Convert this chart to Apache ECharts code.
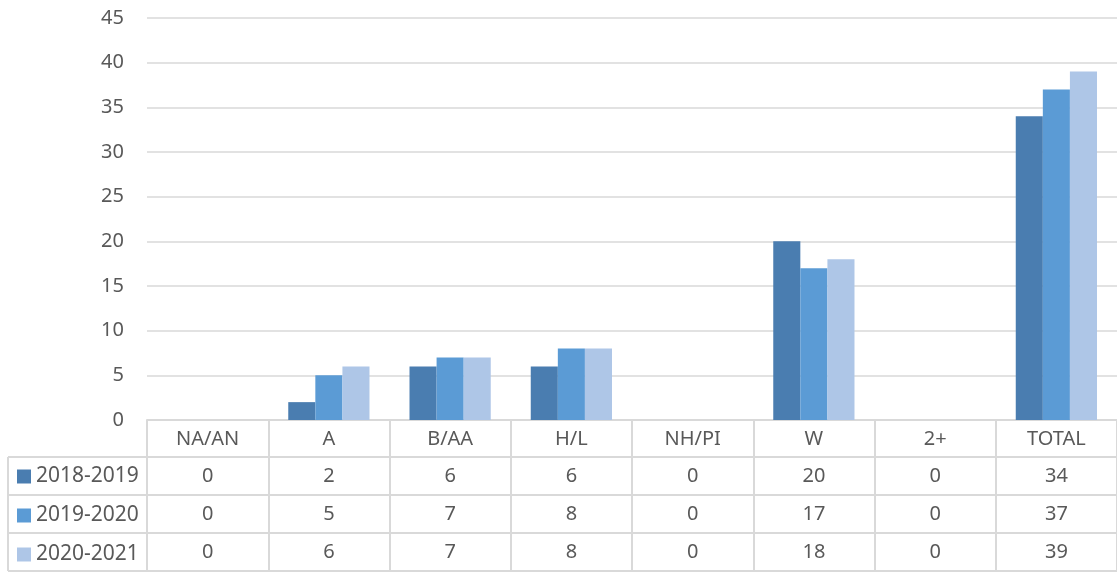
<!DOCTYPE html>
<html>
<head>
<meta charset="utf-8">
<script src="https://cdn.jsdelivr.net/npm/echarts@6/dist/echarts.min.js"></script>
<style>
  html, body { margin: 0; padding: 0; background: #fff; }
  #chart { width: 1117px; height: 572px; }
</style>
</head>
<body>
<div id="chart"></div>
<script>
// data
var categories = ['NA/AN', 'A', 'B/AA', 'H/L', 'NH/PI', 'W', '2+', 'TOTAL'];
var seriesNames = ['2018-2019', '2019-2020', '2020-2021'];
var s2018 = [0, 2, 6, 6, 0, 20, 0, 34];
var s2019 = [0, 5, 7, 8, 0, 17, 0, 37];
var s2020 = [0, 6, 7, 8, 0, 18, 0, 39];
var yTicks = [0, 5, 10, 15, 20, 25, 30, 35, 40, 45];

var colors = ['#4a7db0', '#5b9bd5', '#aec6e7'];
var rows = [s2018, s2019, s2020];
var gridLine = '#d9d9d9';
var txt = '#595959';
var font = 'Noto Sans';

// table rows: header + one row per series (offset from the x axis line)
var rowOffsets = [0, 37, 75, 113, 151];

var myChart = echarts.init(document.getElementById('chart'));

var xAxes = [];
// header row with category names
xAxes.push({
  type: 'category', data: categories, gridIndex: 0, position: 'bottom', offset: 0,
  axisLine: { show: true, lineStyle: { color: gridLine, width: 2 } },
  axisTick: { show: true, length: rowOffsets[1], interval: 0, lineStyle: { color: gridLine, width: 2 } },
  axisLabel: { interval: 0, margin: 9, color: txt, fontSize: 20, fontFamily: font }
});
// one row per series with its values
rows.forEach(function (vals, k) {
  xAxes.push({
    type: 'category', data: categories, gridIndex: 0, position: 'bottom',
    offset: rowOffsets[k + 1],
    axisLine: { show: true, lineStyle: { color: gridLine, width: 2 } },
    axisTick: { show: true, length: rowOffsets[k + 2] - rowOffsets[k + 1], interval: 0, lineStyle: { color: gridLine, width: 2 } },
    axisLabel: {
      interval: 0, margin: 9, color: txt, fontSize: 20, fontFamily: font,
      formatter: function (v, i) { return String(vals[i]); }
    }
  });
});
// bottom border of the table
xAxes.push({
  type: 'category', data: categories, gridIndex: 0, position: 'bottom',
  offset: rowOffsets[4],
  axisLine: { show: true, lineStyle: { color: gridLine, width: 2 } },
  axisTick: { show: false }, axisLabel: { show: false }
});

// left column borders of the table
var tableLeft = 8, tableRight = 147, axisY = 420;
var graphics = [];
for (var r = 1; r < rowOffsets.length; r++) {
  graphics.push({
    type: 'line', silent: true,
    shape: { x1: tableLeft, y1: axisY + rowOffsets[r], x2: tableRight, y2: axisY + rowOffsets[r] },
    style: { stroke: gridLine, lineWidth: 2 }
  });
}
graphics.push({
  type: 'line', silent: true,
  shape: { x1: tableLeft, y1: axisY + rowOffsets[1], x2: tableLeft, y2: axisY + rowOffsets[4] },
  style: { stroke: gridLine, lineWidth: 2 }
});

myChart.setOption({
  animation: false,
  color: colors,
  textStyle: { fontFamily: font },
  grid: { left: 147, right: 0, top: 18, bottom: 152, containLabel: false },
  legend: {
    data: seriesNames,
    orient: 'vertical',
    left: 17, top: 466,
    padding: 0,
    itemWidth: 14, itemHeight: 14, itemGap: 18,
    icon: 'rect',
    textStyle: { color: txt, fontSize: 21, lineHeight: 20, fontFamily: font }
  },
  xAxis: xAxes,
  yAxis: {
    type: 'value', min: yTicks[0], max: yTicks[yTicks.length - 1], interval: 5,
    axisLine: { show: false }, axisTick: { show: false },
    axisLabel: { margin: 23, color: txt, fontSize: 20, fontFamily: font },
    splitLine: { lineStyle: { color: gridLine, width: 1.5 } }
  },
  series: rows.map(function (vals, k) {
    return {
      name: seriesNames[k], type: 'bar', xAxisIndex: 0, data: vals,
      barGap: '0%', barCategoryGap: '33%',
      itemStyle: { color: colors[k] }
    };
  }),
  graphic: graphics
});
</script>
</body>
</html>
